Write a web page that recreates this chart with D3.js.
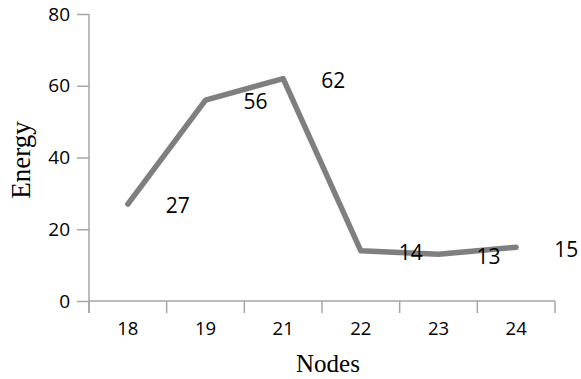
<!DOCTYPE html>
<html><head><meta charset="utf-8">
<script src="https://cdn.jsdelivr.net/npm/d3@7"></script>
<style>body{margin:0;background:#fff}</style>
</head><body>
<svg id="c" width="581" height="379"></svg>
<script>
const categories = ["18","19","21","22","23","24"];
const energy = [27,56,62,14,13,15];
const yTicks = [0,20,40,60,80];

const svg = d3.select("#c");
const x = d3.scaleBand().domain(categories).range([89,555]);
const y = d3.scaleLinear().domain([0,80]).range([301,14]);
const axisColor = "#a6a6a6";
const sans = "'Open Sans', sans-serif";

// y axis
const ya = svg.append("g").attr("transform","translate(89,0)")
  .call(d3.axisLeft(y).tickValues(yTicks).tickSize(12).tickPadding(7).tickFormat(d3.format("d")));
ya.select(".domain").remove();
ya.selectAll(".tick line").attr("stroke",axisColor).attr("stroke-width",1.5);
ya.selectAll(".tick text").attr("font-family",sans).attr("font-size",19).attr("fill","#000");
svg.append("line").attr("x1",89).attr("x2",89).attr("y1",14).attr("y2",313).attr("stroke",axisColor).attr("stroke-width",1.5);

// x axis
const xa = svg.append("g").attr("transform","translate(0,301)")
  .call(d3.axisBottom(x).tickSize(0).tickPadding(21));
xa.select(".domain").remove();
xa.selectAll(".tick line").remove();
xa.selectAll(".tick text").attr("font-family",sans).attr("font-size",18.5).attr("fill","#000");
svg.append("line").attr("x1",89).attr("x2",555).attr("y1",301).attr("y2",301).attr("stroke",axisColor).attr("stroke-width",1.5);
const edges = categories.map(c=>x(c)).concat([x(categories[categories.length-1])+x.bandwidth()]);
svg.selectAll(".xt").data(edges).enter().append("line")
  .attr("x1",d=>d).attr("x2",d=>d).attr("y1",301).attr("y2",313).attr("stroke",axisColor).attr("stroke-width",1.5);

// line
const line = d3.line().x((d,i)=>x(categories[i])+x.bandwidth()/2).y(d=>y(d));
svg.append("path").datum(energy).attr("d",line).attr("fill","none")
  .attr("stroke","#7f7f7f").attr("stroke-width",5.5).attr("stroke-linecap","round").attr("stroke-linejoin","round");

// labels
svg.selectAll(".lbl").data(energy).enter().append("text")
  .attr("x",(d,i)=>x(categories[i])+x.bandwidth()/2+50)
  .attr("y",d=>y(d)+2).attr("dy","0.35em").attr("text-anchor","middle")
  .attr("font-family",sans).attr("font-size",21).attr("fill","#000")
  .text(d=>d);

// titles
svg.append("text").attr("x",328).attr("y",372).attr("text-anchor","middle")
  .attr("font-family","'Liberation Serif', serif").attr("font-size",25).text("Nodes");
svg.append("text").attr("transform","translate(30,160) rotate(-90)").attr("text-anchor","middle")
  .attr("font-family","'Liberation Serif', serif").attr("font-size",27).text("Energy");
</script>
</body></html>
